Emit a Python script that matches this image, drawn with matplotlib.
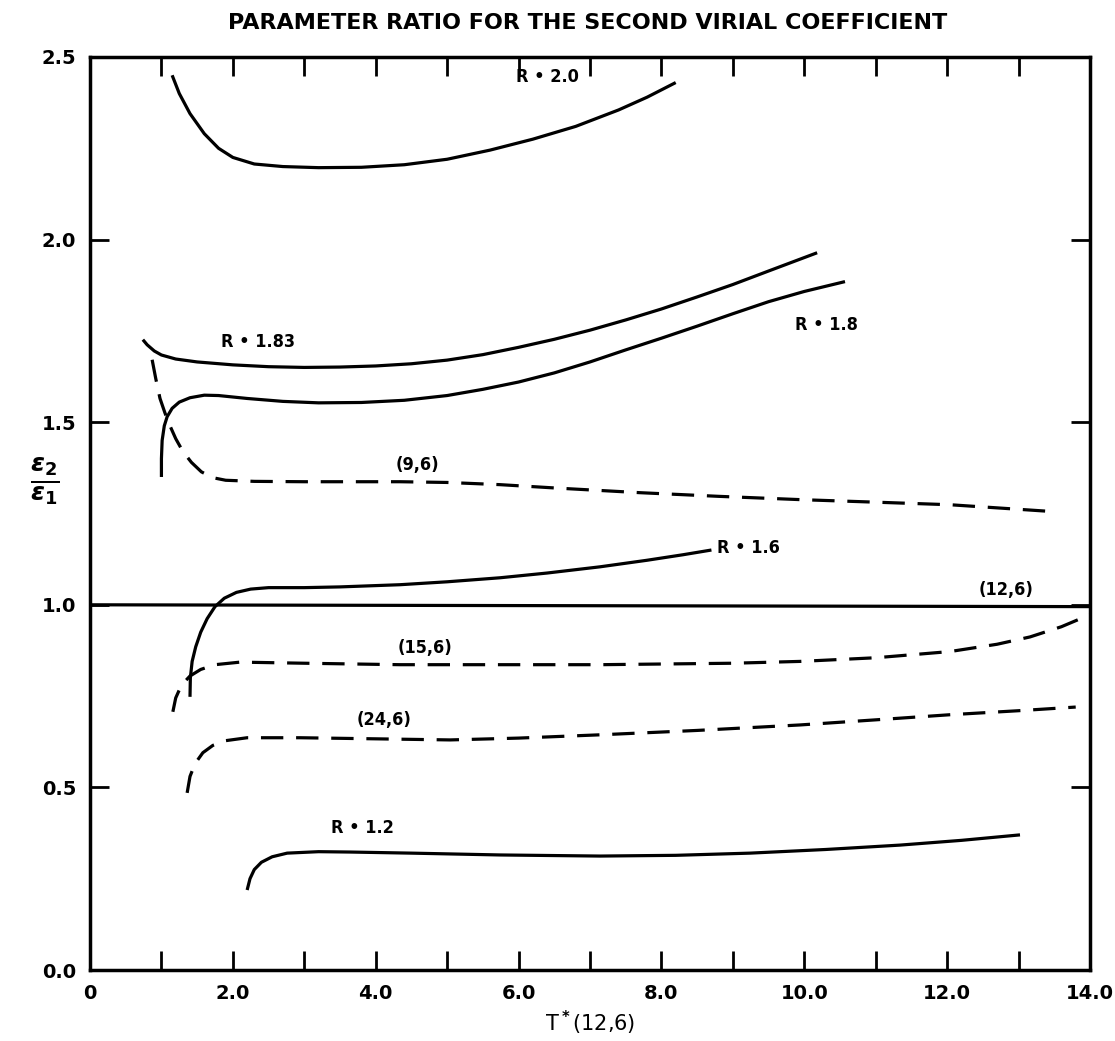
import matplotlib
matplotlib.use("Agg")
import matplotlib.pyplot as plt
from matplotlib.ticker import MultipleLocator, FixedLocator

# ---- data ----
r20_x = [1.15, 1.25, 1.4, 1.6, 1.8, 2.0, 2.3, 2.7, 3.2, 3.8, 4.4, 5.0, 5.6, 6.2, 6.8, 7.4, 7.8, 8.2]
r20_y = [2.45, 2.40, 2.345, 2.29, 2.25, 2.225, 2.207, 2.2, 2.197, 2.198, 2.205, 2.22, 2.245, 2.275,
         2.31, 2.355, 2.39, 2.43]

r183_x = [0.74, 0.8, 0.9, 1.0, 1.2, 1.5, 2.0, 2.5, 3.0, 3.5, 4.0, 4.5, 5.0, 5.5, 6.0, 6.5, 7.0,
          7.5, 8.0, 8.5, 9.0, 9.5, 10.18]
r183_y = [1.726, 1.712, 1.695, 1.684, 1.673, 1.665, 1.657, 1.652, 1.65, 1.651, 1.654, 1.66, 1.67,
          1.685, 1.705, 1.727, 1.752, 1.78, 1.81, 1.843, 1.877, 1.914, 1.964]

r18_x = [1.0, 1.0, 1.01, 1.04, 1.08, 1.15, 1.25, 1.4, 1.6, 1.8, 2.2, 2.7, 3.2, 3.8, 4.4, 5.0, 5.5,
         6.0, 6.5, 7.0, 7.5, 8.0, 8.5, 9.0, 9.5, 10.0, 10.57]
r18_y = [1.35, 1.40, 1.45, 1.49, 1.515, 1.538, 1.555, 1.567, 1.574, 1.573, 1.565, 1.557, 1.553,
         1.554, 1.56, 1.573, 1.59, 1.61, 1.635, 1.665, 1.698, 1.73, 1.763, 1.797, 1.83, 1.858, 1.885]

p96_x = [0.87, 0.92, 0.98, 1.05, 1.12, 1.2, 1.3, 1.42, 1.56, 1.72, 1.9, 2.3, 3.0, 4.34, 5.0, 5.74,
         6.5, 7.7, 8.8, 9.94, 11.0, 12.04, 13.5]
p96_y = [1.671, 1.62, 1.565, 1.525, 1.49, 1.455, 1.42, 1.39, 1.364, 1.348, 1.341, 1.338, 1.337,
         1.337, 1.335, 1.329, 1.32, 1.307, 1.297, 1.288, 1.281, 1.274, 1.255]

r16_x = [1.4, 1.405, 1.43, 1.48, 1.55, 1.64, 1.75, 1.88, 2.05, 2.25, 2.5, 3.0, 3.5, 4.34, 5.0,
         5.74, 6.4, 7.14, 7.8, 8.3, 8.7]
r16_y = [0.748, 0.80, 0.845, 0.885, 0.925, 0.962, 0.995, 1.018, 1.034, 1.043, 1.047, 1.047, 1.049,
         1.055, 1.063, 1.074, 1.087, 1.104, 1.122, 1.137, 1.15]

p126_x = [0.0, 14.0]
p126_y = [1.0, 0.995]

p156_x = [1.16, 1.2, 1.28, 1.4, 1.55, 1.75, 2.1, 3.0, 4.34, 7.14, 9.0, 9.94, 11.0, 12.04, 12.7,
          13.16, 13.6, 14.0]
p156_y = [0.707, 0.745, 0.78, 0.805, 0.823, 0.836, 0.843, 0.84, 0.836, 0.836, 0.84, 0.845, 0.855,
          0.872, 0.892, 0.912, 0.94, 0.973]

p246_x = [1.36, 1.4, 1.47, 1.58, 1.72, 1.9, 2.2, 2.94, 4.0, 5.04, 6.0, 7.14, 8.5, 9.94, 11.0,
          12.04, 13.0, 13.8]
p246_y = [0.485, 0.53, 0.565, 0.595, 0.615, 0.628, 0.636, 0.636, 0.633, 0.630, 0.635, 0.644, 0.656,
          0.671, 0.685, 0.699, 0.71, 0.72]

r12_x = [2.2, 2.24, 2.3, 2.4, 2.55, 2.76, 3.2, 3.64, 4.5, 5.74, 7.14, 8.2, 9.24, 10.3, 11.34,
         12.2, 13.02]
r12_y = [0.219, 0.25, 0.275, 0.295, 0.31, 0.32, 0.324, 0.323, 0.32, 0.315, 0.312, 0.314, 0.32,
         0.33, 0.342, 0.355, 0.37]

labels = ["R \u2022 2.0", "R \u2022 1.83", "R \u2022 1.8", "(9,6)", "R \u2022 1.6",
          "(12,6)", "(15,6)", "(24,6)", "R \u2022 1.2"]
label_x = [6.41, 2.35, 10.31, 4.59, 9.22, 12.82, 4.69, 4.12, 3.81]
label_y = [2.444, 1.72, 1.767, 1.384, 1.156, 1.041, 0.882, 0.685, 0.389]

x_ticks = [0, 2, 4, 6, 8, 10, 12, 14]
x_ticklabels = ["0", "2.0", "4.0", "6.0", "8.0", "10.0", "12.0", "14.0"]
y_ticks = [0.0, 0.5, 1.0, 1.5, 2.0, 2.5]
y_ticklabels = ["0.0", "0.5", "1.0", "1.5", "2.0", "2.5"]

plt.rcParams['font.family'] = ['DejaVu Sans']
plt.rcParams['font.weight'] = 'bold'

fig = plt.figure(figsize=(11.15, 10.41), dpi=100)
ax = fig.add_axes([90 / 1115, 71 / 1041, 1000 / 1115, 913 / 1041])

lw = 2.3
solid = dict(color='black', lw=lw, solid_capstyle='butt', solid_joinstyle='round')
dashed = dict(color='black', lw=lw, dashes=(7, 4))

ax.plot(r20_x, r20_y, **solid)
ax.plot(r183_x, r183_y, **solid)
ax.plot(r18_x, r18_y, **solid)
ax.plot(r16_x, r16_y, **solid)
ax.plot(p126_x, p126_y, **solid)
ax.plot(r12_x, r12_y, **solid)
ax.plot(p96_x, p96_y, **dashed)
ax.plot(p156_x, p156_y, **dashed)
ax.plot(p246_x, p246_y, **dashed)

for txt, lx, ly in zip(labels, label_x, label_y):
    ax.text(lx, ly, txt, fontsize=13, ha='center', va='center', fontstretch='condensed')

ax.set_xlim(0, 14)
ax.set_ylim(0, 2.5)
ax.xaxis.set_major_locator(FixedLocator(x_ticks))
ax.set_xticklabels(x_ticklabels)
ax.xaxis.set_minor_locator(MultipleLocator(1))
ax.yaxis.set_major_locator(FixedLocator(y_ticks))
ax.set_yticklabels(y_ticklabels)

ax.tick_params(which='both', direction='in', top=True, right=True,
               length=14, width=2, labelsize=14, pad=10)
for s in ax.spines.values():
    s.set_linewidth(2.5)

ax.set_xlabel("T$^{\\bf *}$(12,6)", fontsize=15, labelpad=4)
ax.set_ylabel("$\\frac{\\epsilon_2}{\\epsilon_1}$", fontsize=26, rotation=0, va='center')
ax.yaxis.set_label_coords(-0.045, 0.535)

fig.text(0.527, 0.978, "PARAMETER RATIO FOR THE SECOND VIRIAL COEFFICIENT",
         ha='center', va='center', fontsize=16, fontweight='bold')

fig.savefig("out.png", dpi=100)
